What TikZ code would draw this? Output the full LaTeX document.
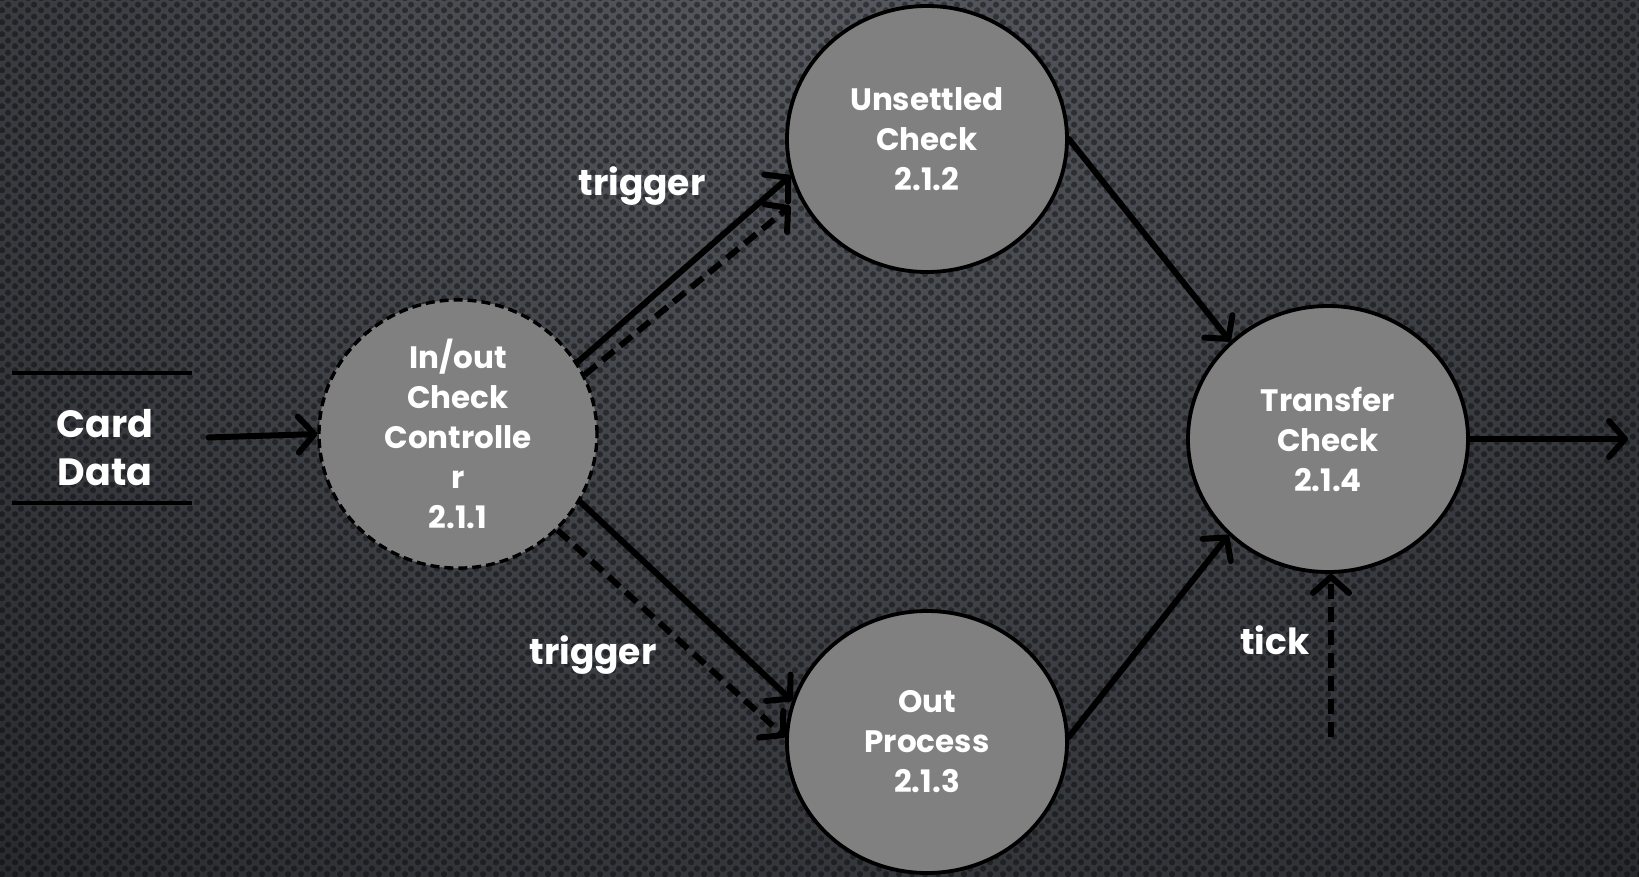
\documentclass[tikz,border=0pt]{standalone}
\usepackage{fontspec}
\setmainfont{Poppins}
\usetikzlibrary{arrows.meta,shapes.geometric,patterns.meta}
\definecolor{bgA}{HTML}{575A60}
\definecolor{bgB}{HTML}{24262A}
\definecolor{procfill}{HTML}{808080}
\tikzdeclarepattern{
  name=perfdots,
  type=uncolored,
  bottom left={(0pt,0pt)},
  top right={(13pt,12pt)},
  tile size={(13pt,12pt)},
  code={
    \fill (3.25pt,3pt) circle (3.3pt);
    \fill (9.75pt,9pt) circle (3.3pt);
  }
}
\tikzset{
  proc/.style={ellipse, draw=black, line width=3.8pt, fill=procfill,
    text=white, font=\bfseries\fontsize{31}{40}\selectfont, align=center, inner sep=0pt},
  dashproc/.style={proc, line width=3.4pt, dash pattern=on 9pt off 5pt},
  flow/.style={line width=6pt, draw=black, line cap=round,
    -{Straight Barb[length=16pt, width=36pt, line cap=round, line join=round]}},
  dflow/.style={flow, line cap=butt, dash pattern=on 15pt off 8pt},
  lbl/.style={text=white, font=\bfseries\fontsize{36}{44}\selectfont},
  storeline/.style={line width=3.5pt, draw=black}
}
\begin{document}
\begin{tikzpicture}[x=1pt,y=-1pt]
\useasboundingbox (0,0) rectangle (1639,876);
% background
\begin{scope}
\clip (0,0) rectangle (1639,876);
\fill[bgB] (0,0) rectangle (1639,876);
\shade[inner color=bgA, outer color=bgB] (820,-60) circle (1350);
\fill[pattern=perfdots, pattern color=black, opacity=0.4] (0,0) rectangle (1639,876);
\end{scope}

% data store
\node[minimum width=179pt, minimum height=130pt, inner sep=0pt] (cd) at (102,438) {};
\node[text=white, font=\bfseries\fontsize{38}{48}\selectfont, align=center] (cdt) at (105,448) {Card\\Data};
\draw[storeline] (cd.north west) -- (cd.north east);
\draw[storeline] (cd.south west) -- (cd.south east);

% processes
\node[dashproc, minimum width=278pt, minimum height=262pt] (io) at (458,434) {In/out\\Check\\Controlle\\r\\2.1.1};
\node[proc, minimum width=280pt, minimum height=266pt] (us) at (927,139) {Unsettled\\Check\\2.1.2};
\node[proc, minimum width=280pt, minimum height=262pt] (op) at (927,742) {Out\\Process\\2.1.3};
\node[proc, minimum width=280pt, minimum height=266pt] (tr) at (1328,439) {Transfer\\Check\\2.1.4};

% labels
\node[lbl] (t1) at (642,186) {trigger};
\node[lbl] (t2) at (593,655) {trigger};
\node[lbl] (tk) at (1275,640) {tick};

% coordinates
\coordinate (outend) at (1628,439);
\coordinate (tickstart) at (1331,737);

% connectors
\draw[flow, shorten <=17pt] (cd.east) -- (io.west);
\draw[flow] (io.31) -- (us.195);
\draw[dflow, shorten >=12pt] (io.25) -- (us.205);
\draw[flow] (io.331) -- (op.163);
\draw[dflow] (io.316) -- (op.178);
\draw[flow] (us.0) -- (tr.135);
\draw[flow] (op.2) -- (tr.224);
\draw[flow] (tr.east) -- (outend);
\draw[dflow] (tickstart) -- (tickstart |- tr.south);
\end{tikzpicture}
\end{document}
